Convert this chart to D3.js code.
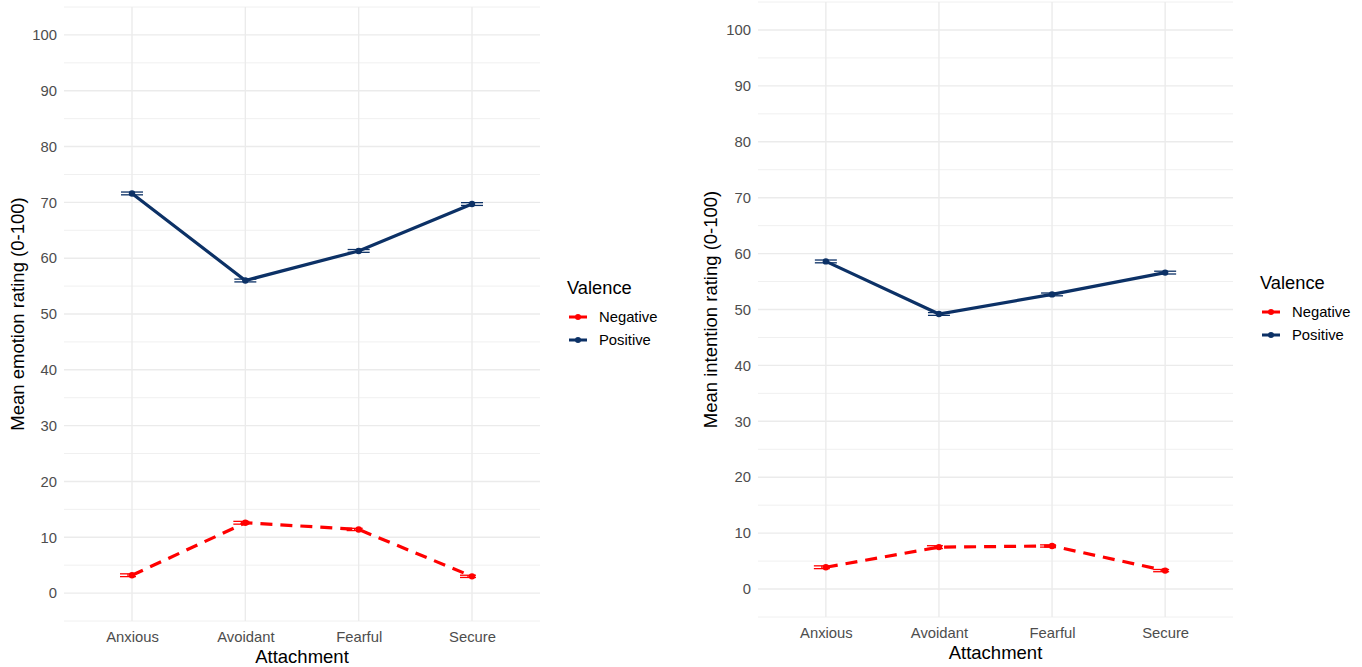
<!DOCTYPE html>
<html>
<head>
<meta charset="utf-8">
<script src="https://cdn.jsdelivr.net/npm/d3@7"></script>
<style>
  body { margin: 0; background: #fff; }
  svg { font-family: "Liberation Sans", Arial, sans-serif; }
</style>
</head>
<body>
<div id="chart"></div>
<script>
// data
let categories = ['Anxious', 'Avoidant', 'Fearful', 'Secure']
let seriesNames = ['Negative', 'Positive']
let yTicks = [0, 10, 20, 30, 40, 50, 60, 70, 80, 90, 100]

let emotionPositive = [71.6, 56.0, 61.3, 69.7]
let emotionPositiveSe = [0.25, 0.25, 0.25, 0.25]
let emotionNegative = [3.2, 12.6, 11.4, 3.0]
let emotionNegativeSe = [0.25, 0.25, 0.2, 0.2]

let intentionPositive = [58.6, 49.2, 52.7, 56.6]
let intentionPositiveSe = [0.25, 0.25, 0.25, 0.25]
let intentionNegative = [3.9, 7.5, 7.7, 3.3]
let intentionNegativeSe = [0.25, 0.25, 0.2, 0.2]

let colors = { Negative: '#ff0000', Positive: '#0c3166' }
let dashes = { Negative: '12,8', Positive: null }

let svg = d3.select('#chart')
  .append('svg')
  .attr('width', 1362)
  .attr('height', 667)

function drawPanel(cfg) {
  let g = svg.append('g')

  let x = d3.scalePoint()
    .domain(categories)
    .range([cfg.left, cfg.right])
    .padding(0.6)

  let y = d3.scaleLinear()
    .domain([-5, 105])
    .range([cfg.bottom, cfg.top])

  // minor grid
  let minor = d3.range(-5, 106, 10)
  g.append('g').selectAll('line')
    .data(minor)
    .enter().append('line')
    .attr('x1', cfg.left).attr('x2', cfg.right)
    .attr('y1', d => y(d)).attr('y2', d => y(d))
    .attr('stroke', '#f0f0f0')
    .attr('stroke-width', 1)

  // major grid
  g.append('g').selectAll('line')
    .data(yTicks)
    .enter().append('line')
    .attr('x1', cfg.left).attr('x2', cfg.right)
    .attr('y1', d => y(d)).attr('y2', d => y(d))
    .attr('stroke', '#ebebeb')
    .attr('stroke-width', 1.4)

  g.append('g').selectAll('line')
    .data(categories)
    .enter().append('line')
    .attr('x1', d => x(d)).attr('x2', d => x(d))
    .attr('y1', cfg.top).attr('y2', cfg.bottom)
    .attr('stroke', '#ebebeb')
    .attr('stroke-width', 1.4)

  // axes (text only, theme_minimal style)
  let yAxis = g.append('g')
    .attr('transform', 'translate(' + (cfg.left - 7) + ',0)')
    .call(d3.axisLeft(y).tickValues(yTicks).tickSize(0).tickPadding(0))
  yAxis.select('.domain').remove()
  yAxis.selectAll('text')
    .attr('font-size', 14.8)
    .attr('fill', '#4d4d4d')
    .attr('font-family', '"Liberation Sans", Arial, sans-serif')

  let xAxis = g.append('g')
    .attr('transform', 'translate(0,' + cfg.bottom + ')')
    .call(d3.axisBottom(x).tickSize(0).tickPadding(10))
  xAxis.select('.domain').remove()
  xAxis.selectAll('text')
    .attr('font-size', 14.8)
    .attr('fill', '#4d4d4d')
    .attr('font-family', '"Liberation Sans", Arial, sans-serif')

  g.append('text')
    .attr('x', (cfg.left + cfg.right) / 2)
    .attr('y', cfg.bottom + 42)
    .attr('text-anchor', 'middle')
    .attr('font-size', 18.5)
    .attr('fill', '#000')
    .text('Attachment')

  g.append('text')
    .attr('transform', 'translate(' + cfg.titleX + ',' + (cfg.top + cfg.bottom) / 2 + ') rotate(-90)')
    .attr('text-anchor', 'middle')
    .attr('dy', '0.35em')
    .attr('font-size', 18.5)
    .attr('fill', '#000')
    .text(cfg.yTitle)

  let series = [
    { name: 'Negative', values: cfg.negative, se: cfg.negativeSe, shift: -4, w: 8 },
    { name: 'Positive', values: cfg.positive, se: cfg.positiveSe, shift: 0, w: 11 }
  ]

  let line = d3.line()
    .x(d => x(d.cat))
    .y(d => y(d.v))

  series.forEach(function(s) {
    let pts = categories.map(function(c, i) {
      return { cat: c, v: s.values[i], se: s.se[i] }
    })
    let sg = g.append('g')

    // error bars
    let eb = sg.selectAll('.eb')
      .data(pts)
      .enter().append('g')
    eb.append('line')
      .attr('x1', d => x(d.cat) + s.shift - s.w).attr('x2', d => x(d.cat) + s.shift + s.w)
      .attr('y1', d => y(d.v + d.se)).attr('y2', d => y(d.v + d.se))
    eb.append('line')
      .attr('x1', d => x(d.cat) + s.shift - s.w).attr('x2', d => x(d.cat) + s.shift + s.w)
      .attr('y1', d => y(d.v - d.se)).attr('y2', d => y(d.v - d.se))
    eb.append('line')
      .attr('x1', d => x(d.cat) + s.shift).attr('x2', d => x(d.cat) + s.shift)
      .attr('y1', d => y(d.v + d.se)).attr('y2', d => y(d.v - d.se))
    eb.selectAll('line')
      .attr('stroke', colors[s.name])
      .attr('stroke-width', 1.3)

    sg.append('path')
      .datum(pts)
      .attr('d', line)
      .attr('fill', 'none')
      .attr('stroke', colors[s.name])
      .attr('stroke-width', 3.2)
      .attr('stroke-dasharray', dashes[s.name])

    sg.selectAll('circle')
      .data(pts)
      .enter().append('circle')
      .attr('cx', d => x(d.cat))
      .attr('cy', d => y(d.v))
      .attr('r', 3.2)
      .attr('fill', colors[s.name])
  })

  // legend
  let lg = g.append('g')
  lg.append('text')
    .attr('x', cfg.legendX)
    .attr('y', cfg.legendY)
    .attr('dy', '0.35em')
    .attr('font-size', 18.3)
    .attr('fill', '#000')
    .text('Valence')

  seriesNames.forEach(function(name, i) {
    let ky = cfg.legendY + 29 + i * 23
    lg.append('line')
      .attr('x1', cfg.legendX + 2).attr('x2', cfg.legendX + 20)
      .attr('y1', ky).attr('y2', ky)
      .attr('stroke', colors[name])
      .attr('stroke-width', 3)
    lg.append('circle')
      .attr('cx', cfg.legendX + 11).attr('cy', ky)
      .attr('r', 3)
      .attr('fill', colors[name])
    lg.append('text')
      .attr('x', cfg.legendX + 32)
      .attr('y', ky)
      .attr('dy', '0.35em')
      .attr('font-size', 14.8)
      .attr('fill', '#000')
      .text(name)
  })
}

drawPanel({
  left: 64, right: 540, top: 7, bottom: 621,
  titleX: 18,
  yTitle: 'Mean emotion rating (0-100)',
  positive: emotionPositive, positiveSe: emotionPositiveSe,
  negative: emotionNegative, negativeSe: emotionNegativeSe,
  legendX: 567, legendY: 288
})

drawPanel({
  left: 758, right: 1233, top: 2, bottom: 617,
  titleX: 711,
  yTitle: 'Mean intention rating (0-100)',
  positive: intentionPositive, positiveSe: intentionPositiveSe,
  negative: intentionNegative, negativeSe: intentionNegativeSe,
  legendX: 1260, legendY: 283
})
</script>
</body>
</html>
